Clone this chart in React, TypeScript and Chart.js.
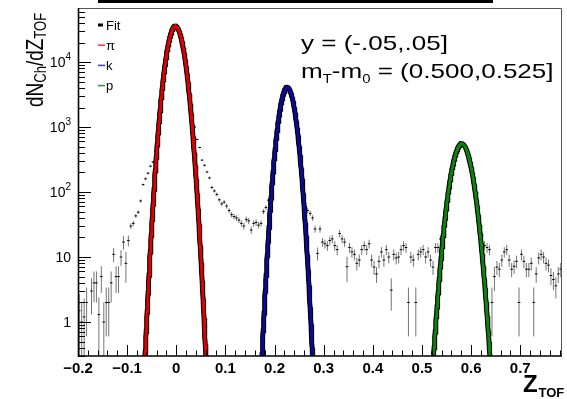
import React, { useEffect, useRef } from 'react';
import { Chart, registerables } from 'chart.js';

Chart.register(...registerables);

// Histogram binning (x = Z_TOF)
const BIN_LOW = -0.2;
const BIN_WIDTH = 0.005;

// dN/dZ per bin
const counts: number[] = [
  1.5, 1, 1.2, 2, 0, 3, 4, 4, 1.3, 5,
  1, 2, 2, 4, 11, 5, 5, 10, 17, 8,
  18, 30, 33, 43, 49, 73, 130, 160, 195, 250,
  290, 425, 850, 2100, 4800, 9600, 16800, 25200, 32400, 35850,
  34000, 27700, 19400, 11700, 6100, 3200, 1700, 1000, 645, 485,
  310, 258, 204, 165, 118, 104, 92, 76, 66, 70,
  61, 52, 45, 42, 40, 37, 33, 30, 38, 36,
  26, 33, 34, 31, 33, 50, 58, 75, 115, 265,
  610, 1250, 2180, 3200, 3950, 4080, 3530, 2550, 1550, 800,
  360, 150, 66, 52, 47, 40, 27, 11.4, 27, 17,
  16, 15, 18, 19, 15, 13, 23, 19, 17, 7.1,
  14, 12, 11, 8, 9, 13, 15, 13, 16, 9,
  7, 5.5, 8.6, 12, 9, 13, 10, 3.1, 11, 9.7,
  10, 13, 15, 14, 2, 10, 9, 2, 11, 12,
  13, 10, 12, 9, 7, 14, 14, 19, 30, 55,
  98, 170, 265, 375, 480, 548, 560, 512, 420, 308,
  203, 122, 68, 38, 22, 15, 14, 13, 2, 5,
  7, 6.5, 9, 12, 13, 9, 6.5, 7.2, 8.6, 2,
  11, 8.6, 6.5, 6.5, 8, 2, 5.5, 9.7, 11, 10,
  8, 7.5, 5.2, 4.5, 3.6, 5.5, 6.5,
];

// statistical error per bin
const errors: number[] = [
  1.2, 1, 1.1, 1.4, 0, 1.7, 2, 2, 1.1, 2.2,
  1, 1.4, 1.4, 2, 2.7, 2.2, 2.2, 2.7, 4, 4,
  3.4, 3, 3, 3, 3, 4, 5, 8, 9, 10,
  11, 13, 18, 29, 44, 62, 82, 100, 114, 120,
  117, 105, 88, 68, 49, 36, 26, 20, 16, 14,
  11, 10, 9, 8, 7, 6.5, 6, 5.5, 5, 5,
  5, 4.5, 4.2, 4, 4, 3.8, 3.6, 3.5, 3.9, 3.8,
  3.2, 3.6, 3.7, 3.5, 3.6, 4.5, 4.8, 5.5, 7, 10,
  16, 22, 30, 36, 40, 40, 38, 32, 25, 18,
  12, 8, 5, 4.6, 4.3, 4, 3.3, 2.6, 3.3, 2.6,
  2.5, 2.5, 2.7, 2.8, 2.5, 2.3, 3, 2.8, 2.6, 3,
  2.4, 2.2, 2.1, 1.8, 1.9, 2.3, 2.5, 2.3, 2.5, 1.9,
  1.7, 1.5, 1.9, 2.2, 1.9, 2.3, 2, 1.6, 2.1, 2,
  2, 2.3, 2.5, 2.4, 1.4, 2, 1.9, 1.4, 2.1, 2.2,
  2.3, 2, 2.2, 1.9, 1.7, 2.4, 2.4, 2.8, 3.5, 4.7,
  6.3, 8, 10, 12, 14, 15, 15, 14, 13, 11,
  9, 7, 5.2, 3.9, 3, 2.5, 2.4, 2.3, 1.4, 2,
  1.7, 1.6, 1.9, 2.2, 2.3, 1.9, 1.6, 1.7, 1.9, 1.4,
  2.1, 1.9, 1.6, 1.6, 1.8, 1.4, 1.5, 2, 2.1, 2,
  1.8, 1.7, 1.5, 1.4, 1.3, 1.5, 1.6,
];

// Gaussian fit parameters (pi, k, p)
const fitNames = ['π', 'k', 'p'];
const fitColors = ['#e00000', '#0a0a96', '#0a840a'];
const fitAmp = [35900, 4100, 555];
const fitMean = [-0.0017, 0.2259, 0.581];
const fitSigma = [0.0128, 0.0118, 0.0148];

// axis
const X_MIN = -0.2;
const X_MAX = 0.785;
const Y_MIN = 0.3;
const Y_MAX = 68000;
const xTickValues = [-0.2, -0.1, 0, 0.1, 0.2, 0.3, 0.4, 0.5, 0.6, 0.7];
const yTickValues = [1, 10, 100, 1000, 10000];
const yTickBase = ['1', '10', '10', '10', '10'];
const yTickExp = ['', '', '2', '3', '4'];
const legendLabels = ['Fit', ...fitNames];
const legendColors = ['#000000', '#ff4040', '#4848c0', '#30a030'];

const FONT = 'Liberation Sans, Arial, sans-serif';

function fmtX(v: number): string {
  if (Math.abs(v) < 1e-9) return '0';
  return v.toFixed(1).replace('-', '\u2212');
}

function drawSegments(
  ctx: CanvasRenderingContext2D,
  segs: { t: string; sub?: boolean }[],
  size: number,
  subSize: number,
  subDrop: number,
  weight = ''
) {
  let x = 0;
  for (const s of segs) {
    ctx.font = `${weight} ${s.sub ? subSize : size}px ${FONT}`;
    ctx.fillText(s.t, x, s.sub ? subDrop : 0);
    x += ctx.measureText(s.t).width;
  }
}

const decorPlugin = {
  id: 'decor',
  beforeDatasetsDraw(chart: any) {
    const { ctx, chartArea: ca, scales } = chart;
    const xs = scales.x;
    const ys = scales.y;
    ctx.save();
    ctx.beginPath();
    ctx.rect(ca.left, ca.top, ca.right - ca.left, ca.bottom - ca.top);
    ctx.clip();
    ctx.strokeStyle = 'rgba(0,0,0,0.55)';
    ctx.lineWidth = 1;
    ctx.beginPath();
    for (let i = 0; i < counts.length; i++) {
      const v = counts[i];
      if (v <= 0) continue;
      const e = errors[i];
      const px = xs.getPixelForValue(BIN_LOW + (i + 0.5) * BIN_WIDTH);
      const y1 = ys.getPixelForValue(v + e);
      const lo = v - e;
      const y2 = lo > 0 ? ys.getPixelForValue(lo) : ca.bottom;
      ctx.moveTo(px, y1);
      ctx.lineTo(px, y2);
    }
    ctx.stroke();
    ctx.restore();
  },
  afterDraw(chart: any) {
    const { ctx, chartArea: ca, scales } = chart;
    const xs = scales.x;
    const ys = scales.y;
    ctx.save();

    // title box remnant at the very top
    ctx.fillStyle = '#000';
    ctx.fillRect(98, 0, 395, 3);

    // frame
    ctx.strokeStyle = '#555';
    ctx.lineWidth = 1;
    ctx.beginPath();
    ctx.moveTo(ca.left, ca.top + 0.5);
    ctx.lineTo(ca.right - 0.5, ca.top + 0.5);
    ctx.lineTo(ca.right - 0.5, ca.bottom);
    ctx.stroke();
    ctx.strokeStyle = '#000';
    ctx.lineWidth = 1.6;
    ctx.beginPath();
    ctx.moveTo(ca.left + 0.5, ca.top);
    ctx.lineTo(ca.left + 0.5, ca.bottom);
    ctx.lineTo(ca.right, ca.bottom);
    ctx.stroke();

    // x ticks (inside)
    ctx.strokeStyle = '#000';
    ctx.lineWidth = 1;
    ctx.beginPath();
    for (let k = 0; k <= 49; k++) {
      const v = X_MIN + k * 0.02;
      if (v > X_MAX + 1e-9) break;
      const px = Math.round(xs.getPixelForValue(v)) + 0.5;
      const major = k % 5 === 0;
      ctx.moveTo(px, ca.bottom);
      ctx.lineTo(px, ca.bottom - (major ? 11 : 5.5));
    }
    // y ticks (inside)
    for (let d = 0.1; d <= 100000; d *= 10) {
      for (let m = 1; m <= 9; m++) {
        const v = m * d;
        if (v < Y_MIN * 0.999 || v > Y_MAX) continue;
        const py = Math.round(ys.getPixelForValue(v)) + 0.5;
        ctx.moveTo(ca.left, py);
        ctx.lineTo(ca.left + (m === 1 ? 13 : 7), py);
      }
    }
    ctx.stroke();

    // y tick labels with superscripts
    ctx.fillStyle = '#000';
    ctx.textBaseline = 'middle';
    ctx.textAlign = 'left';
    for (let i = 0; i < yTickValues.length; i++) {
      const py = ys.getPixelForValue(yTickValues[i]);
      ctx.font = `14px ${FONT}`;
      const bw = ctx.measureText(yTickBase[i]).width;
      ctx.font = `10px ${FONT}`;
      const ew = yTickExp[i] ? ctx.measureText(yTickExp[i]).width : 0;
      const right = 71;
      ctx.font = `14px ${FONT}`;
      ctx.fillText(yTickBase[i], right - ew - bw, py + 1);
      if (yTickExp[i]) {
        ctx.font = `10px ${FONT}`;
        ctx.fillText(yTickExp[i], right - ew, py - 5);
      }
    }

    // legend
    ctx.textBaseline = 'middle';
    for (let i = 0; i < legendLabels.length; i++) {
      const ly = 25 + i * 20.2;
      ctx.fillStyle = legendColors[i];
      if (i === 0) ctx.fillRect(98, ly - 1.5, 5, 3);
      else ctx.fillRect(98, ly - 0.8, 7, 1.6);
      ctx.fillStyle = '#000';
      ctx.font = `13px ${FONT}`;
      ctx.fillText(legendLabels[i], 106, ly + 1);
    }

    // annotations
    ctx.textBaseline = 'alphabetic';
    ctx.fillStyle = '#000';
    ctx.save();
    ctx.translate(301, 50);
    ctx.scale(1.24, 1);
    drawSegments(ctx, [{ t: 'y = (-.05,.05]' }], 21, 13, 0);
    ctx.restore();
    ctx.save();
    ctx.translate(301, 78);
    ctx.scale(1.24, 1);
    drawSegments(
      ctx,
      [{ t: 'm' }, { t: 'T', sub: true }, { t: '-m' }, { t: '0', sub: true }, { t: ' = (0.500,0.525]' }],
      21,
      12,
      4.5
    );
    ctx.restore();

    // y title (rotated)
    ctx.save();
    ctx.translate(43, 107);
    ctx.rotate(-Math.PI / 2);
    ctx.scale(1, 1.25);
    drawSegments(
      ctx,
      [{ t: 'dN' }, { t: 'Ch', sub: true }, { t: '/dZ' }, { t: 'TOF', sub: true }],
      19,
      13,
      2.5
    );
    ctx.restore();

    // x title
    ctx.save();
    ctx.translate(523, 392);
    drawSegments(ctx, [{ t: 'Z' }], 24, 13, 0, 'bold');
    ctx.restore();
    ctx.save();
    ctx.translate(538.5, 397);
    drawSegments(ctx, [{ t: 'TOF' }], 13, 13, 0, 'bold');
    ctx.restore();

    ctx.restore();
  },
};

export default function App() {
  const ref = useRef<HTMLCanvasElement | null>(null);

  useEffect(() => {
    if (!ref.current) return;

    const points = counts
      .map((v, i) => ({ x: BIN_LOW + (i + 0.5) * BIN_WIDTH, y: v }))
      .filter((p) => p.y > 0);

    const curves = fitAmp.map((A, j) => {
      const mu = fitMean[j];
      const s = fitSigma[j];
      const pts: { x: number; y: number }[] = [];
      for (let k = -140; k <= 140; k++) {
        const x = mu + (k / 20) * s;
        pts.push({ x, y: A * Math.exp(-((x - mu) * (x - mu)) / (2 * s * s)) });
      }
      return pts;
    });

    const datasets: any[] = [
      {
        label: 'data',
        data: points,
        showLine: false,
        pointStyle: 'line',
        pointRadius: 1.3,
        pointBorderWidth: 1,
        pointBorderColor: '#000',
        pointBackgroundColor: '#000',
        borderColor: '#000',
        order: 10,
      },
    ];
    curves.forEach((c) => {
      datasets.push({
        label: 'Fit',
        data: c,
        showLine: true,
        borderColor: '#000',
        borderWidth: 5,
        pointRadius: 0,
        tension: 0,
        order: 5,
      });
    });
    curves.forEach((c, j) => {
      datasets.push({
        label: fitNames[j],
        data: c,
        showLine: true,
        borderColor: fitColors[j],
        borderWidth: 2.8,
        pointRadius: 0,
        tension: 0,
        order: 1,
      });
    });

    const chart = new Chart(ref.current, {
      type: 'scatter',
      data: { datasets },
      options: {
        animation: false,
        responsive: false,
        devicePixelRatio: 1,
        events: [],
        layout: { padding: { top: 8, right: 5, left: 0, bottom: 0 } },
        plugins: { legend: { display: false }, tooltip: { enabled: false } },
        scales: {
          x: {
            type: 'linear',
            min: X_MIN,
            max: X_MAX,
            grid: { display: false, drawTicks: false },
            border: { display: false },
            afterBuildTicks: (s: any) => {
              s.ticks = xTickValues.map((v) => ({ value: v }));
            },
            ticks: {
              autoSkip: false,
              maxRotation: 0,
              padding: 4,
              color: '#000',
              font: { family: FONT, size: 15, weight: 'bold' },
              callback: (v: any) => fmtX(Number(v)),
            },
            afterFit: (s: any) => {
              s.height = 43;
            },
          },
          y: {
            type: 'logarithmic',
            min: Y_MIN,
            max: Y_MAX,
            grid: { display: false, drawTicks: false },
            border: { display: false },
            ticks: { display: false },
            afterFit: (s: any) => {
              s.width = 78;
            },
          },
        },
      } as any,
      plugins: [decorPlugin],
    });

    return () => chart.destroy();
  }, []);

  return (
    <div style={{ position: 'fixed', left: 0, top: 0, width: 567, height: 399, background: '#fff' }}>
      <canvas ref={ref} width={567} height={399} style={{ display: 'block' }} />
    </div>
  );
}
